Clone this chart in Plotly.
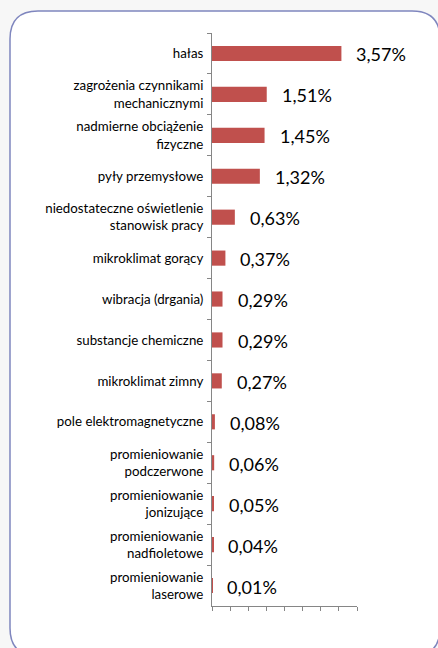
import plotly.graph_objects as go

categories = [
    "hałas",
    "zagrożenia czynnikami<br>mechanicznymi",
    "nadmierne obciążenie<br>fizyczne",
    "pyły przemysłowe",
    "niedostateczne oświetlenie<br>stanowisk pracy",
    "mikroklimat gorący",
    "wibracja (drgania)",
    "substancje chemiczne",
    "mikroklimat zimny",
    "pole elektromagnetyczne",
    "promieniowanie<br>podczerwone",
    "promieniowanie<br>jonizujące",
    "promieniowanie<br>nadfioletowe",
    "promieniowanie<br>laserowe",
]
values = [3.57, 1.51, 1.45, 1.32, 0.63, 0.37, 0.29, 0.29, 0.27, 0.08, 0.06, 0.05, 0.04, 0.01]
value_labels = ["3,57%", "1,51%", "1,45%", "1,32%", "0,63%", "0,37%", "0,29%", "0,29%",
                "0,27%", "0,08%", "0,06%", "0,05%", "0,04%", "0,01%"]

W, H = 438, 648
L, R, T, B = 212, 81, 33, 42
pw, ph = W - L - R, H - T - B
FONT = "Lato, Open Sans, sans-serif"

fig = go.Figure(go.Bar(
    x=values, y=categories, orientation="h",
    marker=dict(color="#C0504D", line=dict(width=0)),
    width=0.37,
    hoverinfo="skip",
))

for c, v, t in zip(categories, values, value_labels):
    fig.add_annotation(x=v, y=c, text=t, showarrow=False, xanchor="left",
                       xshift=13, yshift=-1,
                       font=dict(family=FONT, size=18, color="#000000"))

# rounded frame in pixel -> paper coordinates
def px(x):
    return (x - L) / pw

def py(y):
    return (H - B - y) / ph

x0, x1, y0, y1, r = 10, 440, 11, 656, 28
path = (
    f"M {px(x0)},{py(y0 + r)} "
    f"Q {px(x0)},{py(y0)} {px(x0 + r)},{py(y0)} "
    f"L {px(x1 - r)},{py(y0)} "
    f"Q {px(x1)},{py(y0)} {px(x1)},{py(y0 + r)} "
    f"L {px(x1)},{py(y1 - r)} "
    f"Q {px(x1)},{py(y1)} {px(x1 - r)},{py(y1)} "
    f"L {px(x0 + r)},{py(y1)} "
    f"Q {px(x0)},{py(y1)} {px(x0)},{py(y1 - r)} Z"
)
fig.add_shape(type="path", path=path, xref="paper", yref="paper",
              line=dict(color="#7F86BE", width=1.5), fillcolor="#FFFFFF", layer="below")

fig.update_layout(
    width=W, height=H,
    margin=dict(l=L, r=R, t=T, b=B, pad=0),
    paper_bgcolor="#F7F7F7",
    plot_bgcolor="rgba(0,0,0,0)",
    showlegend=False,
    bargap=0.63,
    font=dict(family=FONT, color="#000000"),
)
fig.update_xaxes(range=[0, 4], dtick=0.5, tick0=0, showticklabels=False,
                 ticks="outside", ticklen=4, tickcolor="#868686",
                 showline=True, linecolor="#868686", linewidth=1,
                 showgrid=False, zeroline=False, fixedrange=True)
fig.update_yaxes(autorange="reversed", type="category", tickson="boundaries",
                 ticks="outside", ticklen=4, tickcolor="#868686",
                 showline=True, linecolor="#868686", linewidth=1,
                 showgrid=False, zeroline=False, ticklabelstandoff=5,
                 tickfont=dict(size=13.3, color="#000000", family=FONT),
                 fixedrange=True)

fig.write_html("out.html", config={"displayModeBar": False},
               post_script="document.body.style.margin='0';document.body.style.overflow='hidden';")
